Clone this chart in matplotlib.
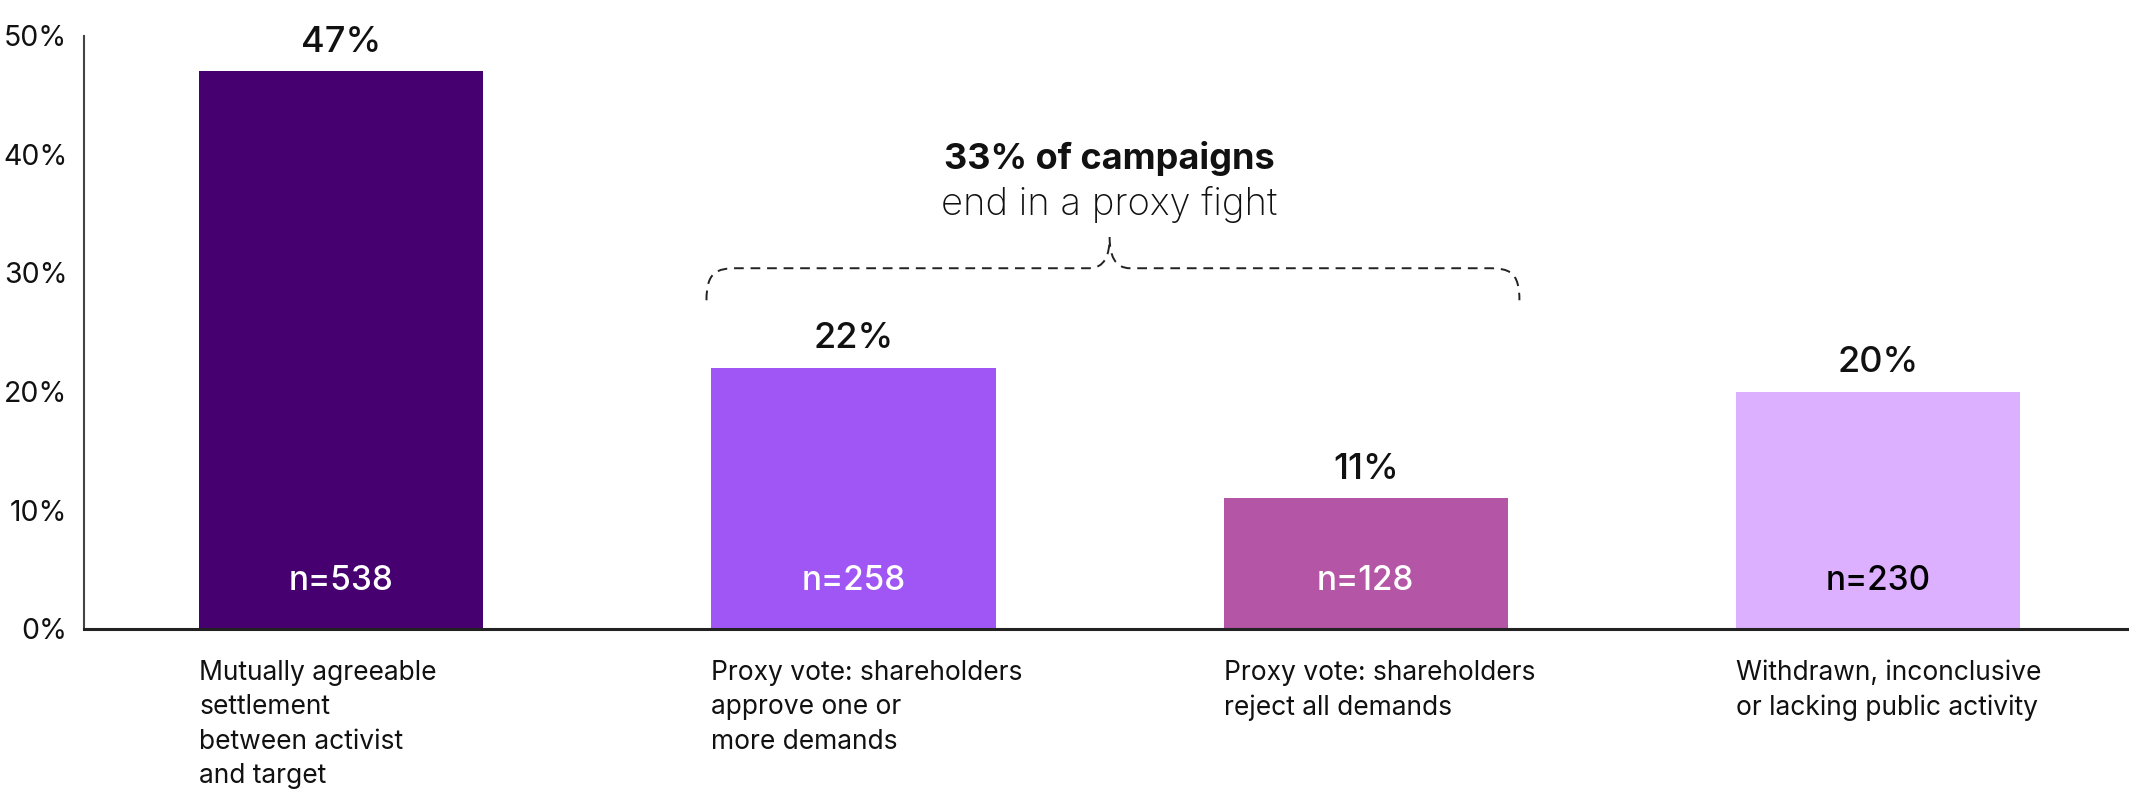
import numpy as np
import matplotlib
matplotlib.use("Agg")
import matplotlib.pyplot as plt
from matplotlib.path import Path
from matplotlib.patches import PathPatch

plt.rcParams['font.family'] = ['Inter', 'DejaVu Sans']

categories = [
    "Mutually agreeable\nsettlement\nbetween activist\nand target",
    "Proxy vote: shareholders\napprove one or\nmore demands",
    "Proxy vote: shareholders\nreject all demands",
    "Withdrawn, inconclusive\nor lacking public activity",
]
shares = [47, 22, 11, 20]
counts = [538, 258, 128, 230]
bar_colors = ["#470070", "#a055f5", "#b455a5", "#dcafff"]
count_colors = ["white", "white", "white", "black"]
yticks = [0, 10, 20, 30, 40, 50]
proxy_total = 33

fig = plt.figure(figsize=(21.29, 7.94), dpi=100)
ax = fig.add_axes([0.0395, 0.208, 0.9605, 0.747])

x = np.arange(len(shares))
width = 0.555
ax.bar(x, shares, width=width, color=bar_colors, zorder=2)

ax.set_xlim(-0.502, 3.49)
ax.set_ylim(0, 50)
ax.set_yticks(yticks)
ax.set_yticklabels([f"{t}%" for t in yticks])
ax.set_xticks([])
ax.tick_params(axis='y', length=0, pad=12, labelsize=20.5, labelcolor="#111111")

for side in ["top", "right"]:
    ax.spines[side].set_visible(False)
ax.spines["left"].set_color("#444444")
ax.spines["left"].set_linewidth(1.5)
ax.spines["bottom"].set_color("#222222")
ax.spines["bottom"].set_linewidth(2.2)

# value labels above, counts inside
for xi, v, n, c in zip(x, shares, counts, count_colors):
    ax.annotate(f"{v}%", xy=(xi, v), xytext=(0, 21), textcoords="offset points",
                ha="center", va="center", fontsize=26, fontweight="medium", color="#111111")
    ax.text(xi, 4.0, f"n={n}", ha="center", va="center", fontsize=24,
            fontweight="medium", color=c)

# category labels under each bar, left aligned to bar edge
for xi, lab in zip(x, categories):
    ax.text(xi - width / 2, -2.6, lab, ha="left", va="top", fontsize=19,
            color="#111111", linespacing=1.43, clip_on=False)

# dashed curly bracket over the two proxy-vote bars
xl, xr = 1 - 0.287, 2 + 0.30
xm = 1.5
yb, yh, yp = 27.7, 30.4, 33.0
verts = [
    (xl, yb),
    (xl, 30.1), (xl + 0.02, yh), (xl + 0.06, yh),
    (xm - 0.04, yh),
    (xm - 0.01, yh), (xm, 31.5), (xm, yp),
    (xm, 31.5), (xm + 0.01, yh), (xm + 0.04, yh),
    (xr - 0.06, yh),
    (xr - 0.02, yh), (xr, 30.1), (xr, yb),
]
codes = [Path.MOVETO,
         Path.CURVE4, Path.CURVE4, Path.CURVE4,
         Path.LINETO,
         Path.CURVE4, Path.CURVE4, Path.CURVE4,
         Path.CURVE4, Path.CURVE4, Path.CURVE4,
         Path.LINETO,
         Path.CURVE4, Path.CURVE4, Path.CURVE4]
brace = PathPatch(Path(verts, codes), facecolor="none", edgecolor="#222222",
                  linewidth=1.4, linestyle=(0, (5, 3.5)))
ax.add_patch(brace)

ax.text(xm, 38.8, f"{proxy_total}% of campaigns", ha="center", va="baseline",
        fontsize=26, fontweight="bold", color="#111111")
ax.text(xm, 34.9, "end in a proxy fight", ha="center", va="baseline",
        fontsize=27.5, fontweight="light", color="#111111")

fig.savefig("out.png", dpi=100)
